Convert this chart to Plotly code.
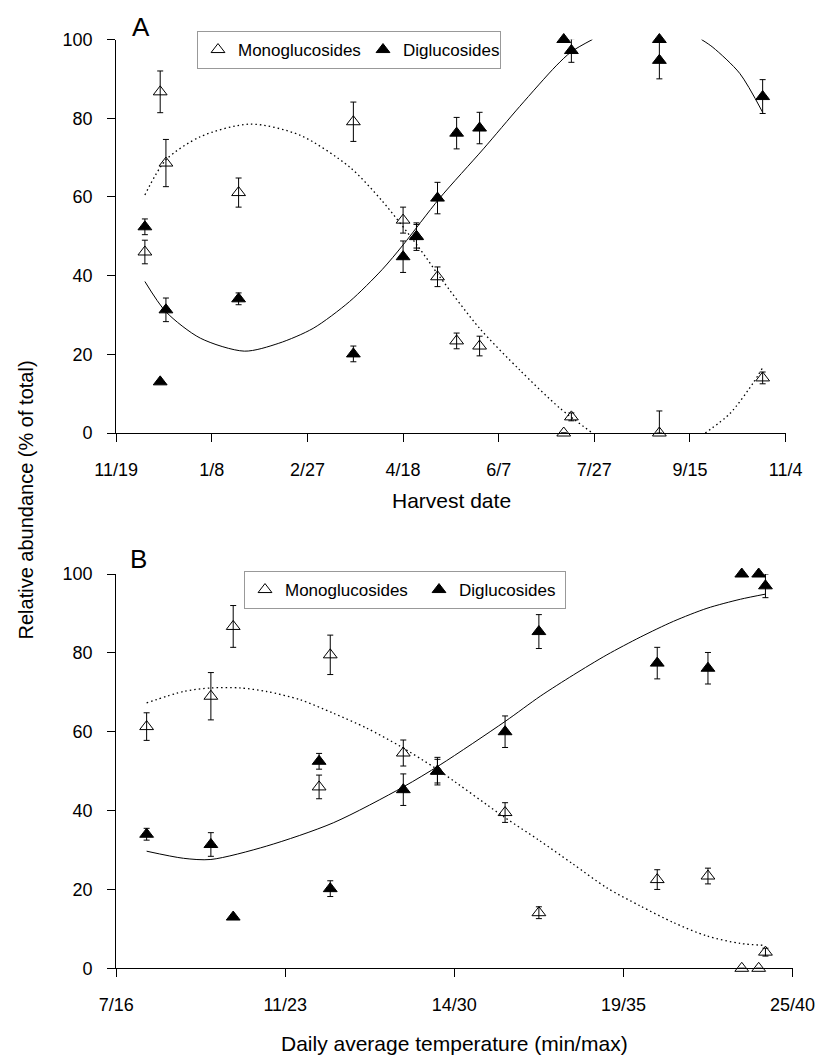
import plotly.graph_objects as go

FONT = "Liberation Sans, Arial, Helvetica, sans-serif"
W, H = 819, 1060

# ---------------- Panel A: harvest date ----------------
mono_a_dates = ["2006-12-04", "2006-12-12", "2006-12-15", "2007-01-22", "2007-03-23",
                "2007-04-18", "2007-04-25", "2007-05-06", "2007-05-16", "2007-05-28",
                "2007-07-11", "2007-07-15", "2007-08-30", "2007-10-23"]
mono_a = [46.0, 86.7, 68.6, 61.1, 79.1, 54.1, 50.0, 39.7, 23.4, 22.1, 0.0, 4.1, 0.0, 14.0]
mono_a_err = [3.0, 5.3, 6.0, 3.7, 5.0, 3.3, 3.0, 2.5, 2.0, 2.5, 0.0, 1.0, 5.6, 1.5]
mono_a_errm = [3.0, 5.3, 6.0, 3.7, 5.0, 3.3, 3.0, 2.5, 2.0, 2.5, 0.0, 1.0, 0.0, 1.5]

di_a_dates = ["2006-12-04", "2006-12-12", "2006-12-15", "2007-01-22", "2007-03-23",
              "2007-04-18", "2007-04-25", "2007-05-06", "2007-05-16", "2007-05-28",
              "2007-07-11", "2007-07-15", "2007-08-30", "2007-08-30", "2007-10-23"]
di_a = [52.4, 13.0, 31.3, 34.1, 20.1, 44.8, 49.9, 59.7, 76.2, 77.5, 100.0, 97.2, 100.0, 94.7, 85.5]
di_a_err = [2.0, 0.0, 3.0, 1.5, 2.0, 4.0, 3.5, 4.0, 4.0, 4.0, 0.0, 3.0, 0.0, 4.7, 4.3]

# fitted trend curves (gaps where the curve leaves 0-100)
mono_fit_a_dates = ["2006-12-04", "2006-12-15", "2007-01-02", "2007-01-28", "2007-02-23",
                    "2007-03-21", "2007-04-07", "2007-04-26", "2007-05-07", "2007-05-28",
                    "2007-06-18", "2007-07-09", "2007-07-26", None,
                    "2007-09-23", "2007-10-06", "2007-10-18", "2007-10-23"]
mono_fit_a = [60.5, 69.4, 75.3, 78.5, 75.7, 67.6, 59.0, 47.3, 39.8, 26.6, 16.0, 6.3, 0.0, None,
              0.0, 5.0, 12.7, 16.6]
di_fit_a_dates = ["2006-12-04", "2006-12-15", "2007-01-02", "2007-01-25", "2007-02-12",
                  "2007-03-02", "2007-03-21", "2007-04-07", "2007-04-18", "2007-05-07",
                  "2007-05-30", "2007-06-18", "2007-07-07", "2007-07-15", "2007-07-26", None,
                  "2007-09-21", "2007-09-27", "2007-10-11", "2007-10-23"]
di_fit_a = [38.5, 30.8, 24.1, 20.8, 22.8, 26.6, 33.4, 41.5, 47.8, 59.6, 72.2, 83.0, 93.3, 96.9, 100.0,
            None, 100.0, 98.0, 91.4, 81.5]

date_ticks = ["2006-11-19", "2007-01-08", "2007-02-27", "2007-04-18",
              "2007-06-07", "2007-07-27", "2007-09-15", "2007-11-04"]
date_tick_labels = ["11/19", "1/8", "2/27", "4/18", "6/7", "7/27", "9/15", "11/4"]

# ---------------- Panel B: daily average temperature ----------------
temp_b = [10.9, 12.8, 13.46, 16.0, 16.33, 18.49, 19.5, 21.5, 22.5, 26.0, 27.5, 28.5, 29.0, 29.2]
mono_b = [61.3, 69.0, 86.7, 46.0, 79.5, 54.6, 50.0, 39.5, 14.1, 22.5, 23.4, 0.0, 0.0, 4.1]
mono_b_err = [3.5, 6.0, 5.3, 3.0, 5.0, 3.3, 3.0, 2.5, 1.5, 2.5, 2.0, 0.0, 0.0, 1.0]
di_b = [34.0, 31.4, 13.0, 52.5, 20.2, 45.3, 50.0, 60.0, 85.4, 77.4, 76.1, 100.0, 100.0, 97.0]
di_b_err = [1.5, 3.0, 0.0, 2.0, 2.0, 4.0, 3.5, 4.0, 4.3, 4.0, 4.0, 0.0, 0.0, 3.0]

mono_fit_b_x = [10.9, 11.99, 12.8, 13.66, 14.45, 15.44, 16.42, 17.41, 18.4, 19.5, 21.5,
                22.5, 23.5, 24.51, 25.5, 26.48, 27.47, 28.46, 29.2]
mono_fit_b = [67.3, 70.2, 71.1, 71.1, 70.2, 68.1, 64.7, 60.9, 56.3, 50.4, 38.2,
              32.5, 26.5, 20.4, 15.8, 11.6, 8.2, 6.3, 5.8]
di_fit_b_x = [10.9, 11.99, 12.8, 14.45, 16.42, 18.49, 19.58, 21.5, 22.54, 23.52, 24.51,
              25.5, 26.48, 27.47, 28.46, 29.2]
di_fit_b = [29.7, 27.9, 27.6, 31.0, 36.9, 46.0, 51.6, 62.6, 69.0, 74.4, 79.5,
            84.0, 88.0, 91.3, 93.6, 94.9]

temp_ticks = [10, 15, 20, 25, 30]
temp_tick_labels = ["7/16", "11/23", "14/30", "19/35", "25/40"]

series_names = ["Monoglucosides", "Diglucosides"]

fig = go.Figure()

def err(arr, arrm=None):
    return dict(type="data", array=arr, arrayminus=arrm if arrm is not None else arr,
                visible=True, color="black", thickness=1, width=3)

DOT = dict(color="black", width=1.3, dash="1.5px,3px", shape="spline", smoothing=0.8)
SOLID = dict(color="black", width=1, shape="spline", smoothing=0.8)
OPEN_TRI = dict(symbol="triangle-up-open", size=12, color="black", line=dict(color="black", width=1))
FILL_TRI = dict(symbol="triangle-up", size=12, color="black", line=dict(color="black", width=1))

# Panel A curves
fig.add_trace(go.Scatter(x=mono_fit_a_dates, y=mono_fit_a, mode="lines", showlegend=False,
                         line=DOT, connectgaps=False, xaxis="x", yaxis="y", hoverinfo="skip"))
fig.add_trace(go.Scatter(x=di_fit_a_dates, y=di_fit_a, mode="lines", showlegend=False,
                         line=SOLID, connectgaps=False, xaxis="x", yaxis="y", hoverinfo="skip"))
# Panel A points
fig.add_trace(go.Scatter(x=mono_a_dates, y=mono_a, mode="markers", name=series_names[0],
                         marker=OPEN_TRI, error_y=err(mono_a_err, mono_a_errm), cliponaxis=False,
                         xaxis="x", yaxis="y", legend="legend", legendwidth=120))
fig.add_trace(go.Scatter(x=di_a_dates, y=di_a, mode="markers", name=series_names[1],
                         marker=FILL_TRI, error_y=err(di_a_err), cliponaxis=False,
                         xaxis="x", yaxis="y", legend="legend", legendwidth=92))

# Panel B curves
fig.add_trace(go.Scatter(x=mono_fit_b_x, y=mono_fit_b, mode="lines", showlegend=False,
                         line=DOT, xaxis="x2", yaxis="y2", hoverinfo="skip"))
fig.add_trace(go.Scatter(x=di_fit_b_x, y=di_fit_b, mode="lines", showlegend=False,
                         line=SOLID, xaxis="x2", yaxis="y2", hoverinfo="skip"))
# Panel B points
mono_b_errm = [e if v > 0 else 0 for e, v in zip(mono_b_err, mono_b)]
fig.add_trace(go.Scatter(x=temp_b, y=mono_b, mode="markers", name=series_names[0],
                         marker=OPEN_TRI, error_y=err(mono_b_err, mono_b_errm), cliponaxis=False,
                         xaxis="x2", yaxis="y2", legend="legend2", legendwidth=129))
fig.add_trace(go.Scatter(x=temp_b, y=di_b, mode="markers", name=series_names[1],
                         marker=FILL_TRI, error_y=err(di_b_err), cliponaxis=False,
                         xaxis="x2", yaxis="y2", legend="legend2", legendwidth=101))

axis_common = dict(showline=True, linecolor="black", linewidth=1, ticks="outside",
                   ticklen=8, tickcolor="black", tickwidth=1, showgrid=False, zeroline=False,
                   automargin=False, mirror=False,
                   tickfont=dict(family=FONT, size=18, color="black"))

def ann(text, x, y, size, **kw):
    return dict(text=text, x=x / W, y=1 - y / H, xref="paper", yref="paper", showarrow=False,
                xanchor="center", yanchor="middle", font=dict(family=FONT, size=size, color="black"), **kw)

fig.update_layout(
    template="none",
    width=W, height=H, margin=dict(l=0, r=0, t=0, b=0, pad=0, autoexpand=False),
    paper_bgcolor="white", plot_bgcolor="white",
    font=dict(family=FONT, color="black"),
    xaxis=dict(domain=[116.2 / W, 785.6 / W], anchor="y", type="date",
               range=["2006-11-19", "2007-11-04"], tickvals=date_ticks,
               ticktext=date_tick_labels, ticklabelstandoff=12, **axis_common),
    yaxis=dict(domain=[1 - 433 / H, 1 - 39.5 / H], anchor="x", range=[0, 100],
               tickvals=[0, 20, 40, 60, 80, 100], ticklabelstandoff=11, **axis_common),
    xaxis2=dict(domain=[116.2 / W, 792.5 / W], anchor="y2", range=[10, 30],
                tickvals=temp_ticks, ticktext=temp_tick_labels, ticklabelstandoff=12, **axis_common),
    yaxis2=dict(domain=[1 - 968.3 / H, 1 - 574 / H], anchor="x2", range=[0, 100],
                tickvals=[0, 20, 40, 60, 80, 100], ticklabelstandoff=11, **axis_common),
    legend=dict(x=197 / W, y=1 - 31 / H, xanchor="left", yanchor="top", orientation="h",
                bordercolor="#999999", borderwidth=1, bgcolor="white",
                font=dict(family=FONT, size=17, color="black")),
    legend2=dict(x=244 / W, y=1 - 571 / H, xanchor="left", yanchor="top", orientation="h",
                 bordercolor="#999999", borderwidth=1, bgcolor="white",
                 font=dict(family=FONT, size=17, color="black")),
    annotations=[
        ann("A", 140.5, 27, 26),
        ann("B", 138.5, 559, 26),
        ann("Harvest date", 451, 500, 21),
        ann("Daily average temperature (min/max)", 454, 1043, 21),
        ann("Relative abundance (% of total)", 25.5, 500, 20, textangle=-90),
    ],
)

fig.write_html("out.html")
